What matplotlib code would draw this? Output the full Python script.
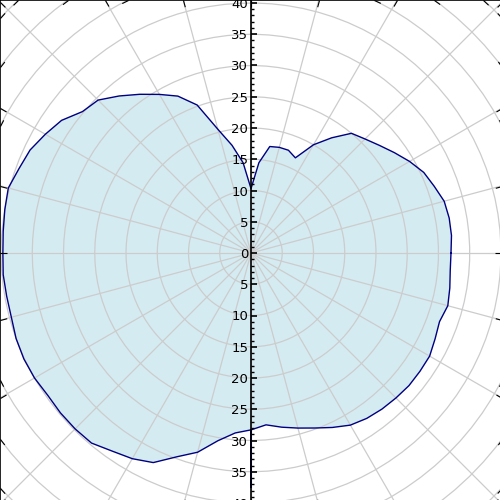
import numpy as np
import matplotlib
matplotlib.use('Agg')
import matplotlib.pyplot as plt
from matplotlib.projections import PolarAxes
from matplotlib.transforms import Affine2D
from mpl_toolkits.axisartist import Axes as AAAxes
from mpl_toolkits.axisartist import angle_helper
from mpl_toolkits.axisartist.grid_finder import FixedLocator
from mpl_toolkits.axisartist.grid_helper_curvelinear import GridHelperCurveLinear
from matplotlib.ticker import MultipleLocator, FuncFormatter

# data: radius every 5 degrees (degrees ccw from east)
angles = np.arange(0, 360, 5)
radius = np.array([
    32.0, 32.2, 32.2, 32.0, 31.2, 30.5, 29.3, 28.0, 26.8, 25.8,   # 0-45
    25.0, 22.5, 20.0, 16.8, 17.5, 17.5, 17.3, 14.5, 10.3, 14.5,   # 50-95
    17.5, 20.5, 25.2, 27.7, 29.3, 31.0, 32.8, 34.6, 35.2, 37.0,   # 100-145
    38.0, 39.0, 39.5, 40.2, 40.0, 39.8, 39.7, 39.8, 39.7, 39.7,   # 150-195
    40.0, 40.1, 40.0, 39.7, 39.8, 39.8, 39.7, 38.7, 38.0, 37.0,   # 200-245
    34.7, 33.0, 30.5, 28.9, 28.3, 27.6, 28.3, 29.0, 29.8, 30.8,   # 250-295
    31.8, 32.3, 32.6, 32.8, 33.0, 33.0, 33.0, 32.5, 32.1, 32.6,   # 300-345
    32.3, 32.0])                                                  # 350-355
spike_angle = 270
spike_r = 37.5

r_levels = np.arange(5, 60, 5)
theta_levels = np.arange(-180, 180, 15)

# outline (closed), with the single spike sample at 270 deg
i = int(np.searchsorted(angles, spike_angle))
th = np.concatenate([angles[:i + 1], [spike_angle], angles[i:], [angles[0] + 360]])
rr = np.concatenate([radius[:i + 1], [spike_r], radius[i:], [radius[0]]])

tr = Affine2D().scale(np.pi / 180, 1) + PolarAxes.PolarTransform(apply_theta_transforms=False)
finder = angle_helper.ExtremeFinderCycle(40, 40, lon_cycle=360, lat_cycle=None,
                                         lon_minmax=None, lat_minmax=(0, np.inf))
helper = GridHelperCurveLinear(tr, extreme_finder=finder,
                               grid_locator1=FixedLocator(theta_levels),
                               grid_locator2=FixedLocator(r_levels))

fig = plt.figure(figsize=(5, 5), dpi=100)
pos = [0, -0.012, 1.004, 1.012]
ax = fig.add_axes(pos, axes_class=AAAxes, grid_helper=helper)
ax.set_xlim(-40.16, 40.16)
ax.set_ylim(-40.48, 40.48)
ax.grid(True, color='#cccccc', linewidth=0.9)
for side in ['left', 'right', 'top', 'bottom']:
    ax.axis[side].get_helper().nth_coord_ticks = 0
    ax.axis[side].major_ticklabels.set_visible(False)
    ax.axis[side].major_ticks.set_ticksize(5)
    ax.axis[side].line.set_linewidth(1.2)

polar = tr + ax.transData
ax.fill(th, rr, facecolor='lightblue', alpha=0.5, edgecolor='none', transform=polar)
ax.plot(th, rr, color='navy', linewidth=1, transform=polar)

# centre scale
ax2 = fig.add_axes(pos)
ax2.set_xlim(-40.16, 40.16)
ax2.set_ylim(-40.48, 40.48)
ax2.patch.set_visible(False)
for s in ['right', 'top', 'bottom']:
    ax2.spines[s].set_visible(False)
ax2.spines['left'].set_position(('data', 0))
ax2.spines['left'].set_linewidth(1.2)
ax2.xaxis.set_visible(False)
ax2.yaxis.set_major_locator(MultipleLocator(5))
ax2.yaxis.set_minor_locator(MultipleLocator(1))
ax2.yaxis.set_major_formatter(FuncFormatter(lambda v, p: '%d' % abs(round(v))))
ax2.tick_params(axis='y', which='major', direction='in', length=4, width=1.2,
                labelsize=9.5, pad=2, colors='black')
ax2.tick_params(axis='y', which='minor', direction='in', length=2, width=1)

fig.savefig('out.png', dpi=100)
